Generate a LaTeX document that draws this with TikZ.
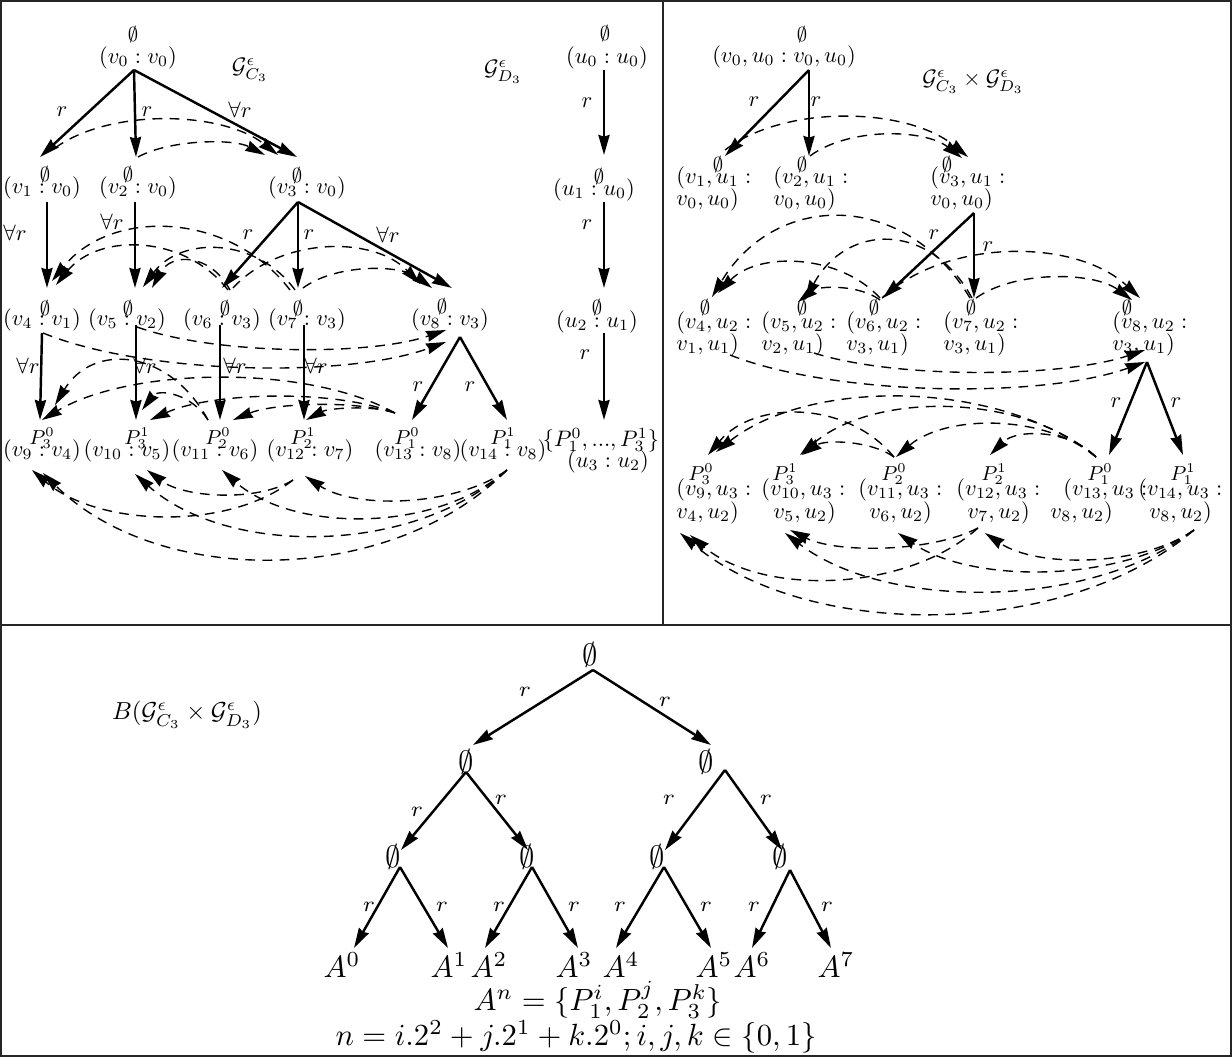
\documentclass[tikz,border=0pt]{standalone}
\usetikzlibrary{arrows.meta,calc}
% dashed arc between two named points; #3 = vertical pull of the control points
\newcommand\dasharc[3]{\draw[dsh] (#1) .. controls ($(#1)!0.25!(#2)+(0,#3)$) and ($(#1)!0.75!(#2)+(0,#3)$) .. (#2);}
\begin{document}
\begin{tikzpicture}[x=0.326pt,y=-0.326pt,
  frame/.style={line width=0.6pt,draw=black!85},
  sol/.style={line width=0.8pt,-{Stealth[length=6.5pt,width=3.6pt,inset=0.5pt]}},
  dsh/.style={line width=0.45pt,dash pattern=on 3.2pt off 2.4pt,-{Stealth[length=6.5pt,width=3.6pt,inset=0.5pt]}},
  txt/.style={inner sep=0pt,font=\normalsize,scale=0.73},
  top/.style={inner sep=0pt,font=\small,scale=0.73},
  lbl/.style={inner sep=0pt,font=\normalsize,scale=0.73},
  ln/.style={inner sep=0pt,font=\normalsize,scale=0.73,anchor=west},
  big/.style={inner sep=0pt,font=\normalsize},
  blbl/.style={inner sep=0pt,font=\fontsize{7}{9}\selectfont}]
\useasboundingbox (0,0) rectangle (1232,1057);
\draw[frame] (1,1) rectangle (1231,1056);
\draw[frame] (1,625) -- (1231,625);
\draw[frame] (663,1) -- (663,625);

% ---------- G_{C_3} ----------
\node[top] (e0) at (133,35) {$\emptyset$};
\node[txt] (t0) at (138,58) {$(v_0 : v_0)$};
\node[txt] (gC) at (250,70) {$\mathcal{G}^{\epsilon}_{C_3}$};
\node[txt] (gD) at (503,72) {$\mathcal{G}^{\epsilon}_{D_3}$};

\node[top] (e1) at (45,174) {$\emptyset$};
\node[txt] (t1) at (42,188) {$(v_1 : v_0)$};
\node[top] (e2) at (128,174) {$\emptyset$};
\node[txt] (t2) at (138,188) {$(v_2 : v_0)$};
\node[top] (e3) at (297,175) {$\emptyset$};
\node[txt] (t3) at (307,188) {$(v_3 : v_0)$};

\node[top] (e4) at (45,308) {$\emptyset$};
\node[txt] (t4) at (42,320) {$(v_4 : v_1)$};
\node[top] (e5) at (128,308) {$\emptyset$};
\node[txt] (t5) at (127,320) {$(v_5 : v_2)$};
\node[top] (e6) at (225,308) {$\emptyset$};
\node[txt] (t6) at (222,320) {$(v_6 : v_3)$};
\node[top] (e7) at (298,308) {$\emptyset$};
\node[txt] (t7) at (307,320) {$(v_7 : v_3)$};
\node[top] (e8) at (442,306) {$\emptyset$};
\node[txt] (t8) at (450,320) {$(v_8 : v_3)$};

\node[top] (p9) at (42,438) {$P^0_3$};
\node[txt] (t9) at (42,451) {$(v_9 : v_4)$};
\node[top] (p10) at (137,438) {$P^1_3$};
\node[txt] (t10) at (127,451) {$(v_{10} : v_5)$};
\node[top] (p11) at (218,438) {$P^0_2$};
\node[txt] (t11) at (215,451) {$(v_{11} : v_6)$};
\node[top] (p12) at (303,438) {$P^1_2$};
\node[txt] (t12) at (310,451) {$(v_{12} : v_7)$};
\node[top] (p13) at (407,438) {$P^0_1$};
\node[txt] (t13) at (418,451) {$(v_{13} : v_8)$};
\node[top] (p14) at (503,438) {$P^1_1$};
\node[txt] (t14) at (503,451) {$(v_{14} : v_8)$};

% ---------- G_{D_3} ----------
\node[top] (f0) at (605,33) {$\emptyset$};
\node[txt] (s0) at (607,58) {$(u_0 : u_0)$};
\node[top] (f1) at (599,176) {$\emptyset$};
\node[txt] (s1) at (594,190) {$(u_1 : u_0)$};
\node[top] (f2) at (597,307) {$\emptyset$};
\node[txt] (s2) at (597,322) {$(u_2 : u_1)$};
\node[txt] (f3) at (601,440) {$\{P^0_1, ..., P^1_3\}$};
\node[txt] (s3) at (608,462) {$(u_3 : u_2)$};

\coordinate (a0o) at (134,70);
\coordinate (a1i) at (40,157);  \coordinate (a2i) at (136,157); \coordinate (a3i) at (297,157);
\coordinate (a1o) at (47,202);  \coordinate (a2o) at (135,202); \coordinate (a3o) at (298,202);
\coordinate (a4i) at (47,288);  \coordinate (a5i) at (135,288); \coordinate (a6i) at (222,288);
\coordinate (a7i) at (298,288); \coordinate (a8i) at (452,288);
\coordinate (a4o) at (42,333);  \coordinate (a5o) at (136,325); \coordinate (a6o) at (220,325);
\coordinate (a7o) at (304,325); \coordinate (a8o) at (460,337);
\coordinate (a9i) at (40,420);  \coordinate (a10i) at (136,420); \coordinate (a11i) at (220,420);
\coordinate (a12i) at (304,420); \coordinate (a13i) at (412,420); \coordinate (a14i) at (507,420);
\coordinate (b0o) at (604,70);  \coordinate (b1i) at (604,155); \coordinate (b1o) at (604,202);
\coordinate (b2i) at (604,288); \coordinate (b2o) at (604,333); \coordinate (b3i) at (604,420);

\draw[sol] (a0o) -- (a1i);
\draw[sol] (a0o) -- (a2i);
\draw[sol] (a0o) -- (a3i);
\draw[sol] (a1o) -- (a4i);
\draw[sol] (a2o) -- (a5i);
\draw[sol] (a3o) -- (a6i);
\draw[sol] (a3o) -- (a7i);
\draw[sol] (a3o) -- (a8i);
\draw[sol] (a4o) -- (a9i);
\draw[sol] (a5o) -- (a10i);
\draw[sol] (a6o) -- (a11i);
\draw[sol] (a7o) -- (a12i);
\draw[sol] (a8o) -- (a13i);
\draw[sol] (a8o) -- (a14i);
\draw[sol] (b0o) -- (b1i);
\draw[sol] (b1o) -- (b2i);
\draw[sol] (b2o) -- (b3i);

\node[lbl] (l01) at (62,112) {$r$};
\node[lbl] (l02) at (147,112) {$r$};
\node[lbl] (l03) at (240,110) {$\forall r$};
\node[lbl] (l14) at (15,233) {$\forall r$};
\node[lbl] (l25) at (112,222) {$\forall r$};
\node[lbl] (l36) at (248,235) {$r$};
\node[lbl] (l37) at (309,235) {$r$};
\node[lbl] (l38) at (388,235) {$\forall r$};
\node[lbl] (l49) at (28,366) {$\forall r$};
\node[lbl] (l510) at (145,366) {$\forall r$};
\node[lbl] (l611) at (235,366) {$\forall r$};
\node[lbl] (l712) at (316,366) {$\forall r$};
\node[lbl] (l813) at (418,387) {$r$};
\node[lbl] (l814) at (470,387) {$r$};
\node[lbl] (m01) at (587,103) {$r$};
\node[lbl] (m12) at (587,225) {$r$};
\node[lbl] (m23) at (585,355) {$r$};

% dashed edges, G_{C_3}
\coordinate (a1d) at (55,148);   \coordinate (a2d) at (138,157);
\coordinate (a3dA) at (278,155); \coordinate (a3dB) at (265,155);
\dasharc{a1d}{a3dA}{-42}
\dasharc{a2d}{a3dB}{-17}
\coordinate (a6dA) at (228,290); \coordinate (a6dB) at (230,290); \coordinate (a6dC) at (233,288);
\coordinate (a7dA) at (290,290); \coordinate (a7dB) at (295,290); \coordinate (a7dC) at (303,288);
\coordinate (a4dA) at (56,285);  \coordinate (a4dB) at (52,281);  \coordinate (a4dC) at (43,333);
\coordinate (a5dA) at (152,288); \coordinate (a5dB) at (143,287); \coordinate (a5dC) at (137,327);
\coordinate (a8dA) at (420,284); \coordinate (a8dB) at (432,288);
\coordinate (a8dC) at (446,342); \coordinate (a8dD) at (446,330);
\dasharc{a6dA}{a4dA}{-54}
\dasharc{a7dA}{a4dB}{-76}
\dasharc{a6dB}{a5dA}{-36}
\dasharc{a7dB}{a5dB}{-52}
\dasharc{a6dC}{a8dA}{-50}
\dasharc{a7dC}{a8dB}{-24}
\dasharc{a4dC}{a8dC}{39}
\dasharc{a5dC}{a8dD}{27}
\coordinate (a13d) at (395,413); \coordinate (a11d) at (208,420);
\coordinate (a14d) at (507,470); \coordinate (a12d) at (293,480);
\coordinate (a9dA) at (42,420);  \coordinate (a10dA) at (150,420);
\coordinate (a11dA) at (233,420); \coordinate (a12dA) at (306,420);
\coordinate (a9dB) at (55,405);  \coordinate (a10dB) at (142,410);
\coordinate (a9dC) at (43,473);  \coordinate (a10dC) at (135,474);
\coordinate (a11dC) at (222,470); \coordinate (a12dC) at (305,476);
\coordinate (a9dD) at (32,470);  \coordinate (a10dD) at (147,470);
\dasharc{a13d}{a9dA}{-51}
\dasharc{a13d}{a10dA}{-26}
\dasharc{a13d}{a11dA}{-15}
\dasharc{a13d}{a12dA}{-10}
\dasharc{a11d}{a9dB}{-67}
\dasharc{a11d}{a10dB}{-24}
\dasharc{a14d}{a9dC}{116}
\dasharc{a14d}{a10dC}{84}
\dasharc{a14d}{a11dC}{63}
\dasharc{a14d}{a12dC}{35}
\dasharc{a12d}{a9dD}{54}
\dasharc{a12d}{a10dD}{25}

% ---------- product graph ----------
\node[top] (E0) at (802,34) {$\emptyset$};
\node[txt] (T0) at (784,57) {$(v_0, u_0 : v_0, u_0)$};
\node[txt] (gP) at (973,82) {$\mathcal{G}^{\epsilon}_{C_3}\times\mathcal{G}^{\epsilon}_{D_3}$};

\node[top] (E1) at (718,164) {$\emptyset$};
\node[ln] (T1a) at (676,178) {$(v_1, u_1 :$};
\node[ln] (T1b) at (676,200) {$v_0, u_0)$};
\node[top] (E2) at (802,164) {$\emptyset$};
\node[ln] (T2a) at (773,178) {$(v_2, u_1 :$};
\node[ln] (T2b) at (773,200) {$v_0, u_0)$};
\node[top] (E3) at (947,164) {$\emptyset$};
\node[ln] (T3a) at (930,178) {$(v_3, u_1 :$};
\node[ln] (T3b) at (930,200) {$v_0, u_0)$};

\node[top] (E4) at (705,307) {$\emptyset$};
\node[ln] (T4a) at (676,323) {$(v_4, u_2 :$};
\node[ln] (T4b) at (676,345) {$v_1, u_1)$};
\node[top] (E5) at (802,307) {$\emptyset$};
\node[ln] (T5a) at (761,323) {$(v_5, u_2 :$};
\node[ln] (T5b) at (761,345) {$v_2, u_1)$};
\node[top] (E6) at (874,307) {$\emptyset$};
\node[ln] (T6a) at (846,323) {$(v_6, u_2 :$};
\node[ln] (T6b) at (846,345) {$v_3, u_1)$};
\node[top] (E7) at (971,307) {$\emptyset$};
\node[ln] (T7a) at (943,323) {$(v_7, u_2 :$};
\node[ln] (T7b) at (943,345) {$v_3, u_1)$};
\node[top] (E8) at (1127,307) {$\emptyset$};
\node[ln] (T8a) at (1112,323) {$(v_8, u_2 :$};
\node[ln] (T8b) at (1112,345) {$v_3, u_1)$};

\node[top] (Q9) at (701,474) {$P^0_3$};
\node[ln] (T9a) at (676,490) {$(v_9, u_3 :$};
\node[ln] (T9b) at (676,513) {$v_4, u_2)$};
\node[top] (Q10) at (785,474) {$P^1_3$};
\node[ln] (T10a) at (761,490) {$(v_{10}, u_3 :$};
\node[ln] (T10b) at (773,513) {$v_5, u_2)$};
\node[top] (Q11) at (894,474) {$P^0_2$};
\node[ln] (T11a) at (858,490) {$(v_{11}, u_3 :$};
\node[ln] (T11b) at (869,513) {$v_6, u_2)$};
\node[top] (Q12) at (994,474) {$P^1_2$};
\node[ln] (T12a) at (956,490) {$(v_{12}, u_3 :$};
\node[ln] (T12b) at (967,513) {$v_7, u_2)$};
\node[top] (Q13) at (1100,474) {$P^0_1$};
\node[ln] (T13a) at (1063,490) {$(v_{13}, u_3 :$};
\node[ln] (T13b) at (1050,513) {$v_8, u_2)$};
\node[top] (Q14) at (1183,474) {$P^1_1$};
\node[ln] (T14a) at (1138,490) {$(v_{14}, u_3 :$};
\node[ln] (T14b) at (1149,513) {$v_8, u_2)$};

\coordinate (c0o) at (809,70);
\coordinate (c1i) at (725,156); \coordinate (c2i) at (809,156);
\coordinate (c3o) at (974,213);
\coordinate (c6i) at (883,298); \coordinate (c7i) at (974,298);
\coordinate (c8o) at (1147,362);
\coordinate (c13i) at (1109,455); \coordinate (c14i) at (1183,455);
\draw[sol] (c0o) -- (c1i);
\draw[sol] (c0o) -- (c2i);
\draw[sol] (c3o) -- (c6i);
\draw[sol] (c3o) -- (c7i);
\draw[sol] (c8o) -- (c13i);
\draw[sol] (c8o) -- (c14i);
\node[lbl] (k01) at (754,102) {$r$};
\node[lbl] (k02) at (816,102) {$r$};
\node[lbl] (k36) at (934,235) {$r$};
\node[lbl] (k37) at (988,247) {$r$};
\node[lbl] (k813) at (1116,403) {$r$};
\node[lbl] (k814) at (1176,403) {$r$};

% dashed edges, product graph
\coordinate (c1d) at (725,150);  \coordinate (c2d) at (810,156);
\coordinate (c3dA) at (968,157); \coordinate (c3dB) at (962,158);
\dasharc{c1d}{c3dA}{-48}
\dasharc{c2d}{c3dB}{-29}
\coordinate (c6dA) at (880,298); \coordinate (c6dB) at (880,300); \coordinate (c6dC) at (882,298);
\coordinate (c7dA) at (970,298); \coordinate (c7dB) at (972,298); \coordinate (c7dC) at (976,298);
\coordinate (c4dA) at (712,297); \coordinate (c4dB) at (718,293); \coordinate (c4dC) at (730,355);
\coordinate (c5dA) at (805,300); \coordinate (c5dB) at (798,302); \coordinate (c5dC) at (814,353);
\coordinate (c8dA) at (1140,298); \coordinate (c8dB) at (1132,300);
\coordinate (c8dC) at (1145,362); \coordinate (c8dD) at (1145,350);
\dasharc{c7dA}{c4dA}{-107}
\dasharc{c6dA}{c4dB}{-43}
\dasharc{c7dB}{c5dA}{-77}
\dasharc{c6dB}{c5dB}{-16}
\dasharc{c6dC}{c8dA}{-60}
\dasharc{c7dC}{c8dB}{-28}
\dasharc{c4dC}{c8dC}{39}
\dasharc{c5dC}{c8dD}{27}
\coordinate (c13d) at (1096,457); \coordinate (c11d) at (894,457);
\coordinate (c14d) at (1194,530); \coordinate (c12d) at (978,528);
\coordinate (c9dA) at (716,452);  \coordinate (c10dA) at (800,455);
\coordinate (c11dA) at (896,457); \coordinate (c12dA) at (990,455);
\coordinate (c9dB) at (708,455);  \coordinate (c10dB) at (802,455);
\coordinate (c9dC) at (680,533);  \coordinate (c10dC) at (785,533);
\coordinate (c11dC) at (898,533); \coordinate (c12dC) at (985,533);
\coordinate (c9dD) at (690,535);  \coordinate (c10dD) at (790,530);
\dasharc{c13d}{c9dA}{-76}
\dasharc{c13d}{c10dA}{-64}
\dasharc{c13d}{c11dA}{-43}
\dasharc{c13d}{c12dA}{-27}
\dasharc{c11d}{c9dB}{-56}
\dasharc{c11d}{c10dB}{-16}
\dasharc{c14d}{c9dC}{109}
\dasharc{c14d}{c10dC}{79}
\dasharc{c14d}{c11dC}{52}
\dasharc{c14d}{c12dC}{36}
\dasharc{c12d}{c9dD}{63}
\dasharc{c12d}{c10dD}{24}

% ---------- B(G x G) ----------
\node[big,scale=0.8] (bt) at (187,715) {$B(\mathcal{G}^{\epsilon}_{C_3}\times\mathcal{G}^{\epsilon}_{D_3})$};
\node[big] (n0) at (590,655) {$\emptyset$};
\node[big] (n1) at (466,762) {$\emptyset$};
\node[big] (n2) at (706,762) {$\emptyset$};
\node[big] (n3) at (393,857) {$\emptyset$};
\node[big] (n4) at (527,857) {$\emptyset$};
\node[big] (n5) at (657,857) {$\emptyset$};
\node[big] (n6) at (780,857) {$\emptyset$};
\node[big] (A0) at (342,965) {$A^0$};
\node[big] (A1) at (449,965) {$A^1$};
\node[big] (A2) at (489,965) {$A^2$};
\node[big] (A3) at (574,965) {$A^3$};
\node[big] (A4) at (621,965) {$A^4$};
\node[big] (A5) at (714,965) {$A^5$};
\node[big] (A6) at (752,965) {$A^6$};
\node[big] (A7) at (836,965) {$A^7$};
\node[big] (fA) at (598,1000) {$A^n=\{P_1^i,P_2^j,P_3^k\}$};
\node[big] (fn) at (576,1037) {$n=i.2^2+j.2^1+k.2^0; i,j,k\in\{0,1\}$};

\coordinate (n0o) at (593,670);
\coordinate (n1i) at (473,745); \coordinate (n2i) at (711,745);
\coordinate (n1o) at (466,772); \coordinate (n2o) at (725,770);
\coordinate (n3i) at (401,850); \coordinate (n4i) at (528,850);
\coordinate (n5i) at (665,850); \coordinate (n6i) at (782,850);
\coordinate (n3o) at (400,867); \coordinate (n4o) at (532,867);
\coordinate (n5o) at (664,867); \coordinate (n6o) at (790,870);
\coordinate (A0i) at (354,948); \coordinate (A1i) at (448,948);
\coordinate (A2i) at (485,948); \coordinate (A3i) at (578,948);
\coordinate (A4i) at (616,948); \coordinate (A5i) at (711,948);
\coordinate (A6i) at (752,948); \coordinate (A7i) at (831,948);
\draw[sol] (n0o) -- (n1i);
\draw[sol] (n0o) -- (n2i);
\draw[sol] (n1o) -- (n3i);
\draw[sol] (n1o) -- (n4i);
\draw[sol] (n2o) -- (n5i);
\draw[sol] (n2o) -- (n6i);
\draw[sol] (n3o) -- (A0i);
\draw[sol] (n3o) -- (A1i);
\draw[sol] (n4o) -- (A2i);
\draw[sol] (n4o) -- (A3i);
\draw[sol] (n5o) -- (A4i);
\draw[sol] (n5o) -- (A5i);
\draw[sol] (n6o) -- (A6i);
\draw[sol] (n6o) -- (A7i);
\node[blbl] (h1) at (525,692) {$r$};
\node[blbl] (h2) at (665,702) {$r$};
\node[blbl] (h3) at (417,812) {$r$};
\node[blbl] (h4) at (501,800) {$r$};
\node[blbl] (h5) at (669,800) {$r$};
\node[blbl] (h6) at (766,800) {$r$};
\node[blbl] (h7) at (369,907) {$r$};
\node[blbl] (h8) at (442,907) {$r$};
\node[blbl] (h9) at (499,907) {$r$};
\node[blbl] (h10) at (574,907) {$r$};
\node[blbl] (h11) at (620,907) {$r$};
\node[blbl] (h12) at (706,907) {$r$};
\node[blbl] (h13) at (754,907) {$r$};
\node[blbl] (h14) at (827,907) {$r$};
\end{tikzpicture}
\end{document}
